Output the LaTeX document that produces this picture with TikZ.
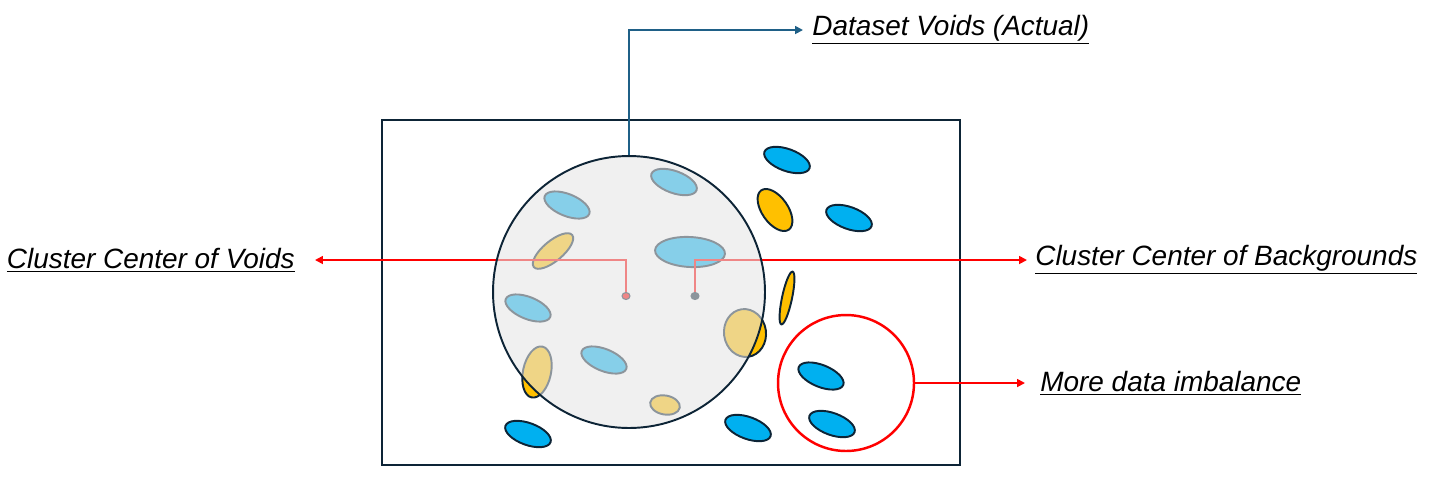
\documentclass[tikz,border=0pt]{standalone}
\usepackage{fontspec}
\setmainfont{Liberation Sans}
\usetikzlibrary{arrows.meta, positioning, shapes.geometric}
\definecolor{framenavy}{RGB}{13,36,54}
\definecolor{blobblue}{RGB}{0,176,240}
\definecolor{blobgold}{RGB}{255,192,0}
\definecolor{voidgray}{RGB}{229,229,229}
\definecolor{linkblue}{RGB}{31,96,135}

\begin{document}
\begin{tikzpicture}[x=0.02cm, y=-0.02cm,
  blob/.style={draw=framenavy, ellipse, line width=1.1pt, inner sep=0pt,
               minimum width=0.96cm, minimum height=0.44cm},
  blueblob/.style={blob, fill=blobblue},
  goldblob/.style={blob, fill=blobgold},
  ctrdot/.style={draw=framenavy, ellipse, line width=0.6pt, inner sep=0pt,
                 minimum width=0.16cm, minimum height=0.14cm},
  lbl/.style={font=\itshape\fontsize{15.9}{18}\selectfont, inner ysep=1pt,
              inner xsep=0.16cm},
  redlink/.style={draw=red, line width=1pt, -{Triangle[length=4.5pt, width=4.5pt]}},
  bluelink/.style={draw=linkblue, line width=1pt, -{Triangle[length=4.5pt, width=4.5pt]}}
]
\useasboundingbox (0,0) rectangle (1429,478);

%--- Frame ---
\draw[framenavy, line width=1.1pt] (382,120) rectangle (960,465);

%--- Labels ---
\node[lbl, anchor=east, inner xsep=0.4cm] (lblvoids) at (315,260) {\underline{Cluster Center of Voids}};
\node[lbl, anchor=west]                   (lblback)  at (1027,260) {\underline{Cluster Center of Backgrounds}};
\node[lbl, anchor=west, inner xsep=0.3cm] (lblimb)   at (1025,383) {\underline{More data imbalance}};
\node[lbl, anchor=west, inner xsep=0.18cm] (lblds)   at (803,30)  {\underline{Dataset Voids (Actual)}};

%--- Samples ---
\node[blueblob, rotate=-20] (s1) at (674,182) {};
\node[blueblob, rotate=-22] (s2) at (567,205) {};
\node[goldblob, rotate=40, minimum width=1cm, minimum height=0.4cm] (s3) at (553,251) {};
\node[blueblob, rotate=-3, minimum width=1.4cm, minimum height=0.6cm] (s4) at (690,252) {};
\node[blueblob, rotate=-22] (s5) at (528,308) {};
\node[goldblob, rotate=8, minimum width=0.84cm, minimum height=0.96cm] (s6) at (745,333) {};
\node[blueblob, rotate=-22] (s7) at (604,360) {};
\node[goldblob, rotate=-12, minimum width=0.56cm, minimum height=1.04cm] (s8) at (537,372) {};
\node[goldblob, rotate=-10, minimum width=0.6cm, minimum height=0.38cm] (s9) at (665,405) {};
\node[blueblob, rotate=-20] (s10) at (787,160) {};
\node[goldblob, rotate=-55, minimum width=0.96cm, minimum height=0.52cm] (s11) at (775,210) {};
\node[blueblob, rotate=-20] (s12) at (849,218) {};
\node[goldblob, rotate=78, minimum width=1.08cm, minimum height=0.2cm] (s13) at (787,298) {};
\node[blueblob, rotate=-22] (s14) at (821,376) {};
\node[blueblob, rotate=-20] (s15) at (832,424) {};
\node[blueblob, rotate=-20] (s16) at (748,428) {};
\node[blueblob, rotate=-20] (s17) at (528,434) {};

%--- Cluster centers ---
\node[ctrdot, fill=red]       (cv) at (626,296) {};
\node[ctrdot, fill=framenavy] (cb) at (695,296) {};
\draw[redlink] (cv) |- (lblvoids);
\draw[redlink] (cb) |- (lblback);

%--- Void region ---
\node[circle, draw=framenavy, line width=1.1pt, fill=voidgray, fill opacity=0.59,
      minimum size=5.44cm, inner sep=0pt] (voids) at (629,292) {};
\draw[bluelink] (voids) |- (lblds);

%--- Imbalance ---
\node[circle, draw=red, line width=1.4pt, minimum size=2.72cm, inner sep=0pt] (imb) at (846,383) {};
\draw[redlink] (imb) -- (lblimb);

\end{tikzpicture}
\end{document}
